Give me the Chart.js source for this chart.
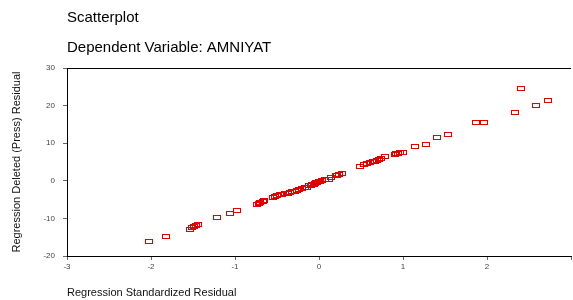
<!DOCTYPE html>
<html>
<head>
<meta charset="utf-8">
<script src="https://cdn.jsdelivr.net/npm/chart.js@4.4.1/dist/chart.umd.min.js"></script>
<style>
    html, body { margin: 0; padding: 0; background: #fff; }
    #wrap { width: 573px; height: 300px; }
</style>
</head>
<body>
<div id="wrap"><canvas id="scatterChart" width="573" height="300"></canvas></div>
<script>
// Regression standardized residual (x) and deleted (press) residual (y)
const stdResid = [
    -2.02, -1.82, -1.53, -1.51, -1.49, -1.47, -1.44, -1.21, -1.06, -0.98,
    -0.74, -0.72, -0.70, -0.67, -0.65, -0.55, -0.52, -0.50, -0.47, -0.44,
    -0.41, -0.37, -0.34, -0.32, -0.29, -0.26, -0.24, -0.20, -0.17, -0.14,
    -0.12, -0.10, -0.08, -0.06, -0.05, -0.03, -0.02, 0.00, 0.01, 0.03,
    0.07, 0.12, 0.14, 0.20, 0.22, 0.24, 0.27, 0.49, 0.53, 0.57,
    0.61, 0.64, 0.67, 0.69, 0.71, 0.74, 0.79, 0.90, 0.92, 0.94,
    0.97, 1.00, 1.14, 1.27, 1.41, 1.54, 1.87, 1.97, 2.33, 2.41,
    2.58, 2.73
];
const pressResid = [
    -16.2, -14.9, -13.0, -12.5, -12.2, -12.0, -11.8, -9.9, -8.7, -8.1,
    -6.5, -6.1, -5.9, -5.7, -5.5, -4.5, -4.3, -4.1, -3.9, -3.8,
    -3.6, -3.4, -3.2, -3.1, -2.9, -2.7, -2.5, -2.3, -2.0, -1.8,
    -1.5, -1.4, -1.2, -1.0, -0.9, -0.7, -0.6, -0.3, -0.2, -0.1,
    0.1, 0.3, 0.7, 1.3, 1.4, 1.5, 1.9, 3.8, 4.1, 4.5,
    4.7, 4.9, 5.0, 5.2, 5.4, 5.9, 6.3, 6.8, 7.0, 7.1,
    7.3, 7.5, 9.0, 9.5, 11.3, 12.1, 15.3, 15.3, 18.1, 24.4,
    19.8, 21.1
];
const xRange = [-3, 3];
const yRange = [-20, 30];
const chartTitle = 'Scatterplot';
const chartSubtitle = 'Dependent Variable: AMNIYAT';
const xTitle = 'Regression Standardized Residual';
const yTitle = 'Regression Deleted (Press) Residual';

// hollow red rectangles, drawn at the points Chart.js placed
const rectMarkers = {
    id: 'rectMarkers',
    afterDatasetsDraw(chart) {
        const g = chart.ctx;
        g.save();
        g.strokeStyle = '#e00000';
        g.lineWidth = 1;
        chart.getDatasetMeta(0).data.forEach(pt => {
            const px = Math.round(pt.x) - 3.5;
            const py = Math.round(pt.y) - 2.5;
            g.strokeRect(px, py, 7, 4);
        });
        g.restore();
    }
};

const points = stdResid.map((x, i) => ({ x: x, y: pressResid[i] }));
const tickFont = { family: 'Arial, "Liberation Sans", sans-serif', size: 8 };
const labelFont = { family: 'Arial, "Liberation Sans", sans-serif', size: 11 };

const ctx = document.getElementById('scatterChart').getContext('2d');
const chart = new Chart(ctx, {
    type: 'scatter',
    data: {
        datasets: [{
            data: points,
            pointRadius: 0,
            pointHoverRadius: 0
        }]
    },
    plugins: [rectMarkers],
    options: {
        responsive: false,
        animation: false,
        devicePixelRatio: 1,
        layout: { padding: { left: 10, right: 0, top: 0, bottom: 0 } },
        plugins: {
            legend: { display: false },
            tooltip: { enabled: false },
            title: {
                display: true,
                text: chartTitle,
                align: 'start',
                fullSize: false,
                color: '#000',
                font: { family: 'Arial, "Liberation Sans", sans-serif', size: 15, weight: 'normal' },
                padding: { top: 9, bottom: 12 }
            },
            subtitle: {
                display: true,
                text: chartSubtitle,
                align: 'start',
                fullSize: false,
                color: '#000',
                font: { family: 'Arial, "Liberation Sans", sans-serif', size: 15, weight: 'normal' },
                padding: { top: 0, bottom: 11 }
            }
        },
        scales: {
            x: {
                type: 'linear',
                min: xRange[0],
                max: xRange[1],
                afterFit: s => { s.height = 44; },
                ticks: {
                    stepSize: 1,
                    color: '#444',
                    font: tickFont,
                    padding: 2,
                    maxRotation: 0,
                    callback: v => (v === xRange[1] ? '' : v)
                },
                grid: { drawOnChartArea: false, tickLength: 4, tickColor: '#666' },
                border: { color: '#000', width: 1 },
                title: {
                    display: true,
                    text: xTitle,
                    align: 'start',
                    color: '#111',
                    font: labelFont,
                    padding: { top: 2, bottom: 0 }
                }
            },
            y: {
                type: 'linear',
                min: yRange[0],
                max: yRange[1],
                afterFit: s => { s.width = 57; },
                ticks: { stepSize: 10, color: '#444', font: tickFont, padding: 8 },
                grid: {
                    color: c => (c.tick && c.tick.value === yRange[1] ? '#000' : 'rgba(0,0,0,0)'),
                    tickColor: '#666',
                    tickLength: 4
                },
                border: { color: '#000', width: 1 },
                title: {
                    display: true,
                    text: yTitle,
                    color: '#111',
                    font: labelFont,
                    padding: { top: 0, bottom: 6 }
                }
            }
        }
    }
});
</script>
</body>
</html>
